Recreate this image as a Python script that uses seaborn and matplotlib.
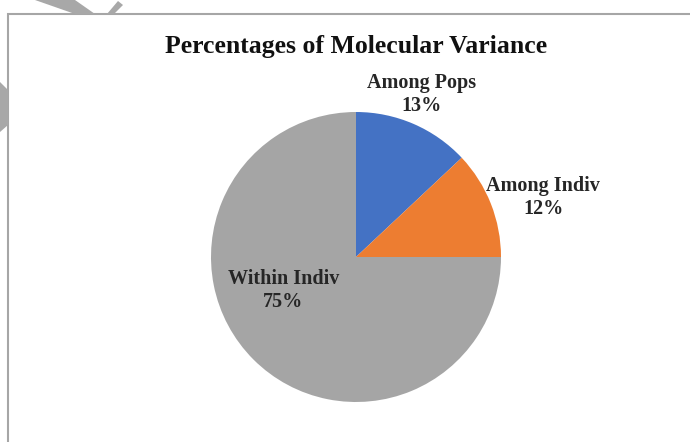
import matplotlib
matplotlib.use("Agg")
import matplotlib.pyplot as plt
import seaborn as sns
from matplotlib.patches import Rectangle, Polygon

# Data
components = ["Among Pops", "Among Indiv", "Within Indiv"]
percentages = [13, 12, 75]
colors = ["#4472C4", "#ED7D31", "#A5A5A5"]
# label anchors (data units, pie radius = 1)
label_pos = [(0.45, 1.12), (1.29, 0.41), (-0.50, -0.23)]

sns.set_theme(style="white")
plt.rcParams['font.family'] = ['Liberation Serif', 'DejaVu Serif']

fig = plt.figure(figsize=(6.9, 4.42), dpi=100)

# chart frame (border box of the embedded chart)
fig.patches.append(Rectangle((8 / 690, -0.1), 1.0, (442 - 14) / 442 + 0.1,
                             transform=fig.transFigure, fill=False,
                             edgecolor="#A6A6A6", linewidth=1.5))
# scan artifacts at top-left
fig.patches.append(Polygon([(35 / 690, 1), (75 / 690, 1), (95 / 690, 1 - 14 / 442),
                            (75 / 690, 1 - 14 / 442)], closed=True,
                           transform=fig.transFigure, facecolor="#A8A8A8", edgecolor="none"))
fig.patches.append(Polygon([(107 / 690, 1 - 14 / 442), (118 / 690, 1 - 1 / 442),
                            (123 / 690, 1 - 5 / 442), (114 / 690, 1 - 14 / 442)], closed=True,
                           transform=fig.transFigure, facecolor="#A8A8A8", edgecolor="none"))
fig.patches.append(Polygon([(0, 1 - 82 / 442), (8 / 690, 1 - 90 / 442), (8 / 690, 1 - 125 / 442),
                            (0, 1 - 132 / 442)], closed=True,
                           transform=fig.transFigure, facecolor="#A8A8A8", edgecolor="none"))

ax = fig.add_axes([211 / 690, 40 / 442, 290 / 690, 290 / 442])
ax.pie(percentages, colors=colors, startangle=90, counterclock=False,
       radius=1, wedgeprops=dict(linewidth=0))
ax.set_xlim(-1, 1)
ax.set_ylim(-1, 1)
ax.set_aspect("equal")
ax.axis("off")

for name, pct, (x, y) in zip(components, percentages, label_pos):
    ax.text(x, y, f"{name}\n{pct}%", ha="center", va="center",
            fontsize=14.5, fontweight="bold", color="#262626", linespacing=1.2)

fig.text(356 / 690, 1 - 46 / 442, "Percentages of Molecular Variance",
         ha="center", va="center", fontsize=18.5, fontweight="bold", color="#111111")

fig.savefig("out.png", dpi=100, facecolor="white")
